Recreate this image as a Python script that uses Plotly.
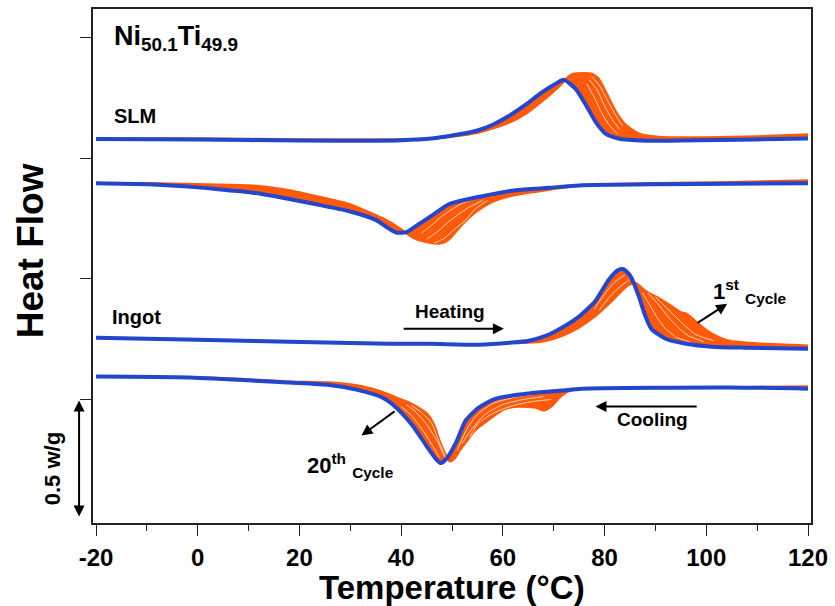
import plotly.graph_objects as go

# ---------------- data (Temperature in °C, heat flow in w/g, curves offset) ----------------
# SLM - heating
slm_h_T20 = [-20, 0, 20, 40, 46, 50, 55, 58, 61, 64.5, 67.6, 70.4, 72, 74.3, 76.3, 78.2, 80.2, 82.7, 86, 95, 110, 120]
slm_h_Q20 = [1.581, 1.579, 1.574, 1.576, 1.583, 1.595, 1.616, 1.640, 1.674, 1.723, 1.773, 1.810, 1.826, 1.789, 1.723, 1.653, 1.603, 1.583, 1.576, 1.574, 1.579, 1.583]
slm_h_T1 = [-20, 0, 20, 40, 46, 50, 55, 57.8, 61.2, 64.5, 67.6, 71, 72.9, 74, 77.5, 78.8, 80.2, 82.2, 84.1, 86.7, 90.6, 95, 100, 110, 120]
slm_h_Q1 = [1.583, 1.583, 1.579, 1.579, 1.583, 1.591, 1.607, 1.624, 1.649, 1.686, 1.736, 1.798, 1.839, 1.851, 1.851, 1.831, 1.777, 1.694, 1.640, 1.603, 1.589, 1.587, 1.587, 1.591, 1.599]
slm_h_Tmid = [[77, 78.5, 80, 81.5, 83], [77.5, 79, 80.5, 82, 83.5], [76.5, 78, 79.5, 81, 82.5]]
slm_h_Qmid = [[1.826, 1.785, 1.719, 1.661, 1.620], [1.839, 1.802, 1.744, 1.686, 1.636], [1.810, 1.752, 1.686, 1.636, 1.603]]

# SLM - cooling
slm_c_T20 = [-20, -10, 0, 5, 10.2, 16.7, 23.3, 29.8, 35.1, 37.6, 39.2, 41, 42.9, 46.1, 49.4, 55.9, 62.5, 69, 75, 90, 105, 120]
slm_c_Q20 = [1.397, 1.393, 1.380, 1.370, 1.360, 1.337, 1.310, 1.281, 1.244, 1.209, 1.192, 1.194, 1.219, 1.264, 1.310, 1.343, 1.368, 1.378, 1.388, 1.393, 1.395, 1.397]
slm_c_T1 = [-20, -10, 0, 10, 16.7, 23.3, 29.8, 36.3, 39.6, 41, 43, 46, 48, 49.4, 52, 54.7, 57.3, 61.2, 65.7, 75, 90, 105, 120]
slm_c_Q1 = [1.397, 1.397, 1.393, 1.388, 1.372, 1.343, 1.310, 1.252, 1.211, 1.190, 1.165, 1.149, 1.149, 1.165, 1.227, 1.279, 1.314, 1.343, 1.360, 1.388, 1.397, 1.401, 1.409]
slm_c_Tmid = [[44, 46, 48, 50, 52, 55], [45, 47, 49, 51, 53, 56], [46.5, 48.5, 50.5, 52.5, 54.5, 57]]
slm_c_Qmid = [[1.190, 1.223, 1.260, 1.289, 1.314, 1.335], [1.165, 1.194, 1.231, 1.264, 1.293, 1.326], [1.149, 1.169, 1.207, 1.240, 1.289, 1.326]]

# Ingot - heating
ing_h_T20 = [-20, 0, 18, 37.6, 45.5, 55.3, 61.8, 65.1, 68.4, 71.6, 74.9, 78.2, 80.8, 82.7, 83.7, 85.1, 86.7, 88, 89.2, 92, 96, 101, 107.6, 120]
ing_h_Q20 = [0.756, 0.748, 0.740, 0.731, 0.731, 0.727, 0.736, 0.744, 0.764, 0.798, 0.843, 0.909, 0.996, 1.037, 1.041, 1.012, 0.930, 0.847, 0.793, 0.752, 0.731, 0.719, 0.715, 0.711]
ing_h_T1 = [-20, 0, 18, 37.6, 45.5, 55.3, 61.8, 65.1, 68.4, 71.6, 74.9, 78.2, 81.4, 83.3, 84.7, 86.1, 88, 90.6, 93.1, 95.1, 96.1, 97.1, 98.4, 101, 104.3, 110.8, 120]
ing_h_Q1 = [0.756, 0.748, 0.740, 0.731, 0.731, 0.727, 0.736, 0.736, 0.744, 0.764, 0.798, 0.847, 0.909, 0.950, 0.975, 0.983, 0.950, 0.921, 0.888, 0.860, 0.855, 0.839, 0.814, 0.773, 0.744, 0.731, 0.723]
ing_h_Tmid = [[87.5, 89, 90.5, 92, 94, 97], [88.5, 90.5, 92.5, 94.5, 96.5, 99.5], [90, 92, 94, 96, 98, 101.5], [78, 80, 82, 84], [79, 81, 83, 84.8]]
ing_h_Qmid = [[0.942, 0.888, 0.835, 0.793, 0.760, 0.736], [0.942, 0.897, 0.843, 0.798, 0.764, 0.740], [0.926, 0.884, 0.843, 0.802, 0.769, 0.744], [0.876, 0.938, 0.988, 1.017], [0.872, 0.926, 0.967, 0.996]]

# Ingot - cooling
ing_c_T20 = [-20, -1.6, 18, 25.9, 31.2, 36.3, 39, 42.2, 44.9, 46.9, 47.8, 49, 50.8, 52.7, 55.3, 58.6, 65.1, 71.6, 75.5, 104.3, 120]
ing_c_Q20 = [0.595, 0.591, 0.570, 0.560, 0.541, 0.508, 0.467, 0.393, 0.310, 0.252, 0.236, 0.256, 0.322, 0.413, 0.467, 0.504, 0.525, 0.537, 0.545, 0.550, 0.545]
ing_c_T1 = [-20, 0, 10, 18, 25.9, 32.4, 36, 39, 41, 43, 45, 46.5, 47.5, 48.5, 49.5, 50.5, 51.5, 53, 54.5, 57, 60.2, 63, 66.5, 68, 69.6, 71, 72.7, 75, 90, 105, 120]
ing_c_Q1 = [0.595, 0.591, 0.583, 0.574, 0.570, 0.554, 0.533, 0.508, 0.492, 0.471, 0.442, 0.393, 0.331, 0.281, 0.244, 0.256, 0.289, 0.331, 0.372, 0.413, 0.459, 0.471, 0.467, 0.455, 0.473, 0.506, 0.533, 0.545, 0.548, 0.550, 0.554]
ing_c_Tmid = [[40, 42, 44, 46, 47.5], [41, 43, 45, 47, 48.5], [42, 44, 46, 47.5, 48.8],
              [51, 53, 55, 58, 62, 66], [52, 54, 56.5, 60, 64, 68], [53.5, 55, 58, 62, 66, 69.5]]
ing_c_Qmid = [[0.471, 0.434, 0.380, 0.314, 0.260], [0.479, 0.446, 0.397, 0.331, 0.264], [0.475, 0.446, 0.401, 0.322, 0.256],
              [0.289, 0.380, 0.438, 0.483, 0.508, 0.521], [0.318, 0.380, 0.438, 0.479, 0.500, 0.512], [0.343, 0.397, 0.442, 0.475, 0.492, 0.500]]

x_tick_vals = [-20, 0, 20, 40, 60, 80, 100, 120]
x_tick_text = ["-20", "0", "20", "40", "60", "80", "100", "120"]
y_tick_vals = [0.5, 1.0, 1.5, 2.0]

# ---------------- styling ----------------
ORANGE = "#ff5a0a"
BLUE = "#2346cf"
PALE = "#fde0c8"
FONT = "Arial, 'Liberation Sans', Helvetica, sans-serif"

fig = go.Figure()


def add_group(T1, Q1, T20, Q20, Tmid, Qmid):
    fig.add_trace(go.Scatter(x=T1, y=Q1, mode="lines",
                             line=dict(color=ORANGE, width=2.5, shape="spline", smoothing=0.6),
                             hoverinfo="skip", showlegend=False))
    fig.add_trace(go.Scatter(x=T20, y=Q20, mode="lines",
                             line=dict(color=ORANGE, width=0, shape="spline", smoothing=0.6),
                             fill="tonexty", fillcolor=ORANGE,
                             hoverinfo="skip", showlegend=False))
    for tm, qm in zip(Tmid, Qmid):
        fig.add_trace(go.Scatter(x=tm, y=qm, mode="lines",
                                 line=dict(color=PALE, width=0.9, shape="spline", smoothing=0.6),
                                 hoverinfo="skip", showlegend=False))
    fig.add_trace(go.Scatter(x=T20, y=Q20, mode="lines",
                             line=dict(color=BLUE, width=4, shape="spline", smoothing=0.6),
                             hoverinfo="skip", showlegend=False))


add_group(slm_h_T1, slm_h_Q1, slm_h_T20, slm_h_Q20, slm_h_Tmid, slm_h_Qmid)
add_group(slm_c_T1, slm_c_Q1, slm_c_T20, slm_c_Q20, slm_c_Tmid, slm_c_Qmid)
add_group(ing_h_T1, ing_h_Q1, ing_h_T20, ing_h_Q20, ing_h_Tmid, ing_h_Qmid)
add_group(ing_c_T1, ing_c_Q1, ing_c_T20, ing_c_Q20, ing_c_Tmid, ing_c_Qmid)

bold = dict(family=FONT, color="black", weight="bold")


def txt(size):
    d = dict(bold)
    d["size"] = size
    return d


annotations = [
    dict(x=-16.9, y=2.0, xref="x", yref="y", text="Ni<sub>50.1</sub>Ti<sub>49.9</sub>",
         showarrow=False, xanchor="left", yanchor="middle", font=txt(27)),
    dict(x=-16.9, y=1.677, xref="x", yref="y", text="SLM", showarrow=False,
         xanchor="left", yanchor="middle", font=txt(20)),
    dict(x=-17.2, y=0.843, xref="x", yref="y", text="Ingot", showarrow=False,
         xanchor="left", yanchor="middle", font=txt(20)),
    dict(x=49.6, y=0.864, xref="x", yref="y", text="Heating", showarrow=False,
         xanchor="center", yanchor="middle", font=txt(19)),
    dict(x=60.2, y=0.793, xref="x", yref="y", ax=40.2, ay=0.793, axref="x", ayref="y",
         text="", showarrow=True, arrowhead=2, arrowsize=1.1, arrowwidth=2, arrowcolor="black"),
    dict(x=89.4, y=0.417, xref="x", yref="y", text="Cooling", showarrow=False,
         xanchor="center", yanchor="middle", font=txt(19)),
    dict(x=78.2, y=0.471, xref="x", yref="y", ax=98.4, ay=0.471, axref="x", ayref="y",
         text="", showarrow=True, arrowhead=2, arrowsize=1.1, arrowwidth=2, arrowcolor="black"),
    dict(x=101.0, y=0.950, xref="x", yref="y", text="1<sup>st</sup> <sub>Cycle</sub>",
         showarrow=False, xanchor="left", yanchor="middle", font=txt(22)),
    dict(x=104.1, y=0.897, xref="x", yref="y", ax=98.0, ay=0.814, axref="x", ayref="y",
         text="", showarrow=True, arrowhead=2, arrowsize=1.1, arrowwidth=2, arrowcolor="black"),
    dict(x=21.0, y=0.227, xref="x", yref="y", text="20<sup>th</sup> <sub>Cycle</sub>",
         showarrow=False, xanchor="left", yanchor="middle", font=txt(22)),
    dict(x=32.2, y=0.351, xref="x", yref="y", ax=39.0, ay=0.455, axref="x", ayref="y",
         text="", showarrow=True, arrowhead=2, arrowsize=1.1, arrowwidth=2, arrowcolor="black"),
    dict(x=-0.0194, y=0.496, xref="paper", yref="y", ax=0, ay=0.008, axref="pixel", ayref="y",
         text="", showarrow=True, arrowhead=2, arrowside="end+start", arrowsize=1.1,
         arrowwidth=2, arrowcolor="black"),
    dict(x=-0.057, y=0.211, xref="paper", yref="y", text="0.5 w/g", textangle=-90,
         showarrow=False, xanchor="center", yanchor="middle", font=txt(22)),
    dict(x=-0.0875, y=0.529, xref="paper", yref="paper", text="Heat Flow", textangle=-90,
         showarrow=False, xanchor="center", yanchor="middle", font=txt(37)),
    dict(x=0.5, y=-0.126, xref="paper", yref="paper", text="Temperature (°C)",
         showarrow=False, xanchor="center", yanchor="middle", font=txt(33)),
]

fig.update_layout(
    width=835, height=606,
    margin=dict(l=93, r=22, t=7, b=83),
    paper_bgcolor="white", plot_bgcolor="white",
    showlegend=False,
    annotations=annotations,
    xaxis=dict(range=[-20.59, 120.59], tickvals=x_tick_vals, ticktext=x_tick_text,
               ticks="outside", ticklen=11, tickwidth=1.4, tickcolor="#222",
               minor=dict(dtick=10, tick0=-20, ticks="outside", ticklen=6, tickwidth=1.4, tickcolor="#222"),
               showline=True, linecolor="#222", linewidth=1.5, mirror=True,
               showgrid=False, zeroline=False, tickfont=txt(24), ticklabelstandoff=1),
    yaxis=dict(range=[-0.0124, 2.120], tickvals=y_tick_vals, showticklabels=False,
               ticks="outside", ticklen=11, tickwidth=1.4, tickcolor="#222",
               showline=True, linecolor="#222", linewidth=1.5, mirror=True,
               showgrid=False, zeroline=False),
)

fig.write_html("out.html", config={"displayModeBar": False},
               post_script="document.body.style.margin='0px';document.body.style.padding='0px';")
